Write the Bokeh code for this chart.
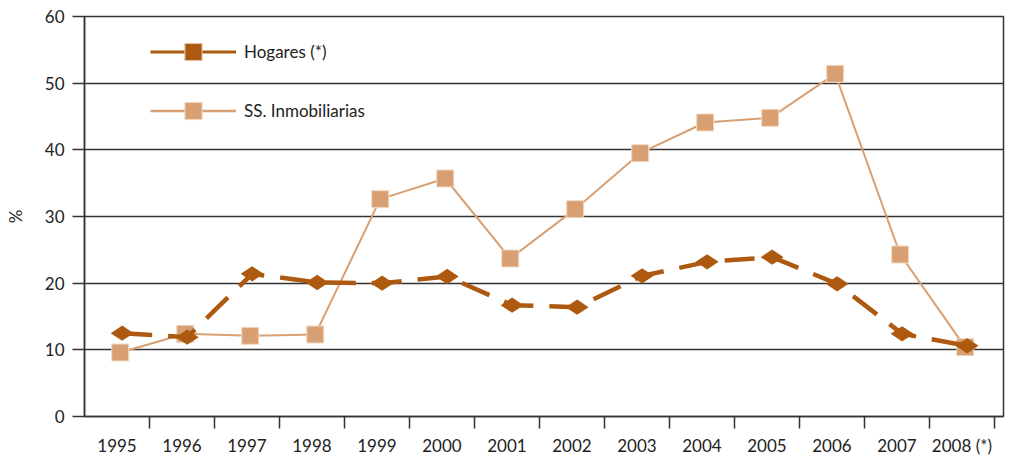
from bokeh.plotting import figure
from bokeh.models import FixedTicker, Legend, LegendItem, ColumnDataSource, Range1d
from bokeh.embed import file_html
from bokeh.resources import INLINE
import math

# Series values (%)
years = ["1995", "1996", "1997", "1998", "1999", "2000", "2001",
         "2002", "2003", "2004", "2005", "2006", "2007", "2008 (*)"]
hogares = [12.5, 11.9, 21.4, 20.1, 20.0, 21.0, 16.7,
           16.4, 21.1, 23.2, 23.9, 19.9, 12.4, 10.6]
inmobiliarias = [9.6, 12.4, 12.1, 12.3, 32.6, 35.7, 23.7,
                 31.1, 39.5, 44.1, 44.8, 51.4, 24.3, 10.4]
y_ticks = [0, 10, 20, 30, 40, 50, 60]

DARK = "#AD5A10"
LIGHT = "#D8A072"
INK = "#333333"
FONT = "Lato"

n = len(years)
centers = [i + 0.5 for i in range(n)]
src_h = ColumnDataSource(dict(x=[c + 0.08 for c in centers], y=hogares))
src_i = ColumnDataSource(dict(x=[c + 0.05 for c in centers], y=inmobiliarias))

p = figure(width=1016, height=458, output_backend="svg", toolbar_location=None,
           x_range=Range1d(0, n + 0.14), y_range=Range1d(0, 60),
           min_border_left=84, min_border_right=13, min_border_top=16,
           min_border_bottom=42)

p.outline_line_color = INK
p.outline_line_width = 1.5
p.background_fill_color = "white"
p.border_fill_color = "white"

# x axis: year labels at band centres, ticks at band edges
xa = p.xaxis[0]
xa.ticker = FixedTicker(ticks=centers, minor_ticks=list(range(1, n + 1)))
xa.major_label_overrides = {c: y for c, y in zip(centers, years)}
xa.major_tick_out = 0
xa.major_tick_in = 0
xa.minor_tick_out = 12
xa.minor_tick_in = 0
xa.minor_tick_line_color = INK
xa.minor_tick_line_width = 1.5
xa.axis_line_color = INK
xa.axis_line_width = 1.5
xa.major_label_text_font = FONT
xa.major_label_text_font_size = "17px"
xa.major_label_text_color = "#222222"
xa.major_label_standoff = 6

ya = p.yaxis[0]
ya.ticker = FixedTicker(ticks=y_ticks)
ya.minor_tick_line_color = None
ya.major_tick_out = 12
ya.major_tick_in = 0
ya.major_tick_line_color = INK
ya.major_tick_line_width = 1.5
ya.axis_line_color = INK
ya.axis_line_width = 1.5
ya.major_label_text_font = FONT
ya.major_label_text_font_size = "17px"
ya.major_label_text_color = "#222222"
ya.major_label_standoff = 8
ya.axis_label = "%"
ya.axis_label_text_font = FONT
ya.axis_label_text_font_style = "normal"
ya.axis_label_text_font_size = "17px"
ya.axis_label_text_color = "#222222"
ya.axis_label_standoff = 16

p.xgrid.grid_line_color = None
p.ygrid.ticker = FixedTicker(ticks=y_ticks)
p.ygrid.grid_line_color = INK
p.ygrid.grid_line_width = 1.5

# SS. Inmobiliarias: thin solid line with squares
p.line("x", "y", source=src_i, line_color=LIGHT, line_width=2)
p.scatter("x", "y", source=src_i, marker="square", size=17,
          fill_color=LIGHT, line_color="#F1D9C4", line_width=1)

# Hogares: thick dashed line with wide diamonds
p.line("x", "y", source=src_h, line_color=DARK, line_width=4.5,
       line_dash="30 16")
p.scatter("x", "y", source=src_h, marker="diamond", size=23, angle=math.pi / 2,
          fill_color=DARK, line_color=DARK, line_width=0)

# Legend entries (solid line + square symbol); NaN rows keep them off the plot
blank = dict(x=[float("nan")], y=[float("nan")])
lh = p.line("x", "y", source=ColumnDataSource(blank), line_color=DARK, line_width=3)
sh = p.scatter("x", "y", source=ColumnDataSource(blank), marker="square", size=17,
               fill_color=DARK, line_color="#E8C9AE", line_width=1)
li = p.line("x", "y", source=ColumnDataSource(blank), line_color=LIGHT, line_width=2.5)
si = p.scatter("x", "y", source=ColumnDataSource(blank), marker="square", size=17,
               fill_color=LIGHT, line_color="#F1D9C4", line_width=1)

legend = Legend(items=[LegendItem(label="Hogares (*)", renderers=[lh, sh]),
                       LegendItem(label="SS. Inmobiliarias", renderers=[li, si])],
                location=(66, 284), orientation="vertical",
                glyph_width=86, glyph_height=43, label_standoff=8, spacing=16,
                padding=0, margin=0, border_line_color=None,
                background_fill_alpha=0,
                label_text_font=FONT, label_text_font_size="17px",
                label_text_color="#222222", label_height=43)
p.add_layout(legend)

open("out.html", "w").write(file_html(p, INLINE))
